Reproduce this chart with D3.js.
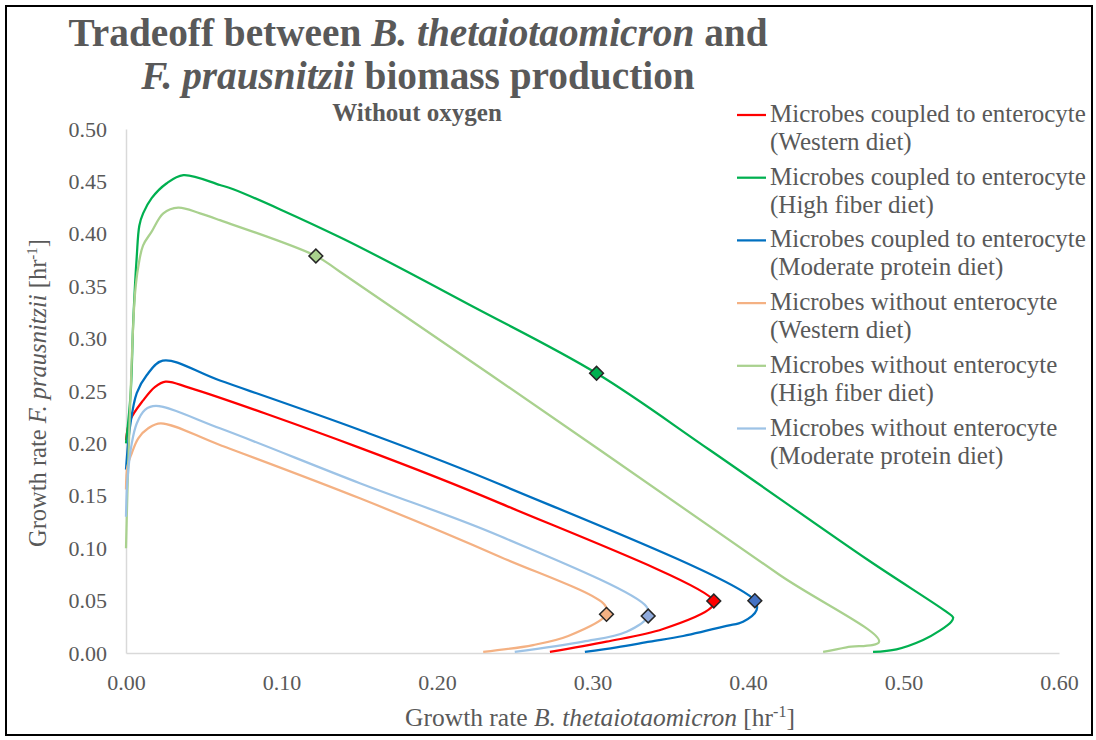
<!DOCTYPE html>
<html>
<head>
<meta charset="utf-8">
<script src="https://cdn.jsdelivr.net/npm/d3@7"></script>
<style>
  body { margin: 0; background: #fff; }
  svg text { font-family: "Liberation Serif", "Times New Roman", serif; }
</style>
</head>
<body>
<div id="chart"></div>
<script>
// growth rate pairs [B. thetaiotaomicron, F. prausnitzii]
var coupledWestern = [
  [0.0, 0.203], [0.0026, 0.222], [0.011, 0.241], [0.0187, 0.254], [0.0255, 0.259],
  [0.041, 0.253], [0.150, 0.196], [0.2404, 0.143], [0.378, 0.0496], [0.3765, 0.0436],
  [0.3454, 0.0229], [0.309, 0.0108], [0.2726, 0.001]
];
var coupledHighFiber = [
  [0.0, 0.20], [0.003, 0.248], [0.0047, 0.318], [0.0069, 0.378], [0.0086, 0.408],
  [0.011, 0.4195], [0.0165, 0.434], [0.026, 0.448], [0.0369, 0.456], [0.0604, 0.4466],
  [0.069, 0.4425], [0.1376, 0.3967], [0.2233, 0.3304], [0.3026, 0.2669], [0.3754, 0.1937],
  [0.4772, 0.0887], [0.5275, 0.0394], [0.5319, 0.034], [0.5308, 0.030], [0.5233, 0.0213],
  [0.5126, 0.0124], [0.4955, 0.0035], [0.4804, 0.001]
];
var coupledModerate = [
  [0.0, 0.175], [0.0026, 0.216], [0.0069, 0.248], [0.0133, 0.265], [0.0236, 0.279],
  [0.0604, 0.260], [0.150, 0.213], [0.2404, 0.161], [0.4044, 0.0499], [0.4055, 0.041],
  [0.3968, 0.0299], [0.3862, 0.0258], [0.3583, 0.0162], [0.3369, 0.0108], [0.3155, 0.0054],
  [0.2951, 0.001]
];
var withoutWestern = [
  [0.0, 0.156], [0.0009, 0.178], [0.0037, 0.1906], [0.0079, 0.2049], [0.0143, 0.2144],
  [0.0223, 0.2192], [0.0604, 0.1985], [0.1504, 0.1476], [0.2404, 0.0919], [0.3079, 0.0458],
  [0.309, 0.0369], [0.2844, 0.0162], [0.2618, 0.0076], [0.2297, 0.001]
];
var withoutHighFiber = [
  [0.0, 0.10], [0.0009, 0.152], [0.0037, 0.2796], [0.0058, 0.343], [0.0079, 0.3686],
  [0.011, 0.389], [0.0165, 0.402], [0.024, 0.4195], [0.0336, 0.425], [0.0476, 0.4195],
  [0.0604, 0.413], [0.1221, 0.3788], [0.1376, 0.3638], [0.3047, 0.1937], [0.4204, 0.0744],
  [0.4843, 0.0108], [0.4633, 0.0054], [0.4483, 0.001]
];
var withoutModerate = [
  [0.0, 0.130], [0.0009, 0.165], [0.0037, 0.20], [0.0069, 0.219], [0.0122, 0.232],
  [0.0193, 0.2357], [0.0604, 0.2144], [0.1504, 0.162], [0.2404, 0.1116], [0.3347, 0.0442],
  [0.3358, 0.0353], [0.3219, 0.0203], [0.294, 0.0108], [0.250, 0.001]
];

var seriesNames = [
  ["Microbes coupled to enterocyte", "(Western diet)"],
  ["Microbes coupled to enterocyte", "(High fiber diet)"],
  ["Microbes coupled to enterocyte", "(Moderate protein diet)"],
  ["Microbes without enterocyte", "(Western diet)"],
  ["Microbes without enterocyte", "(High fiber diet)"],
  ["Microbes without enterocyte", "(Moderate protein diet)"]
];
var seriesColors = ["#FF0000", "#00B050", "#0070C0", "#F4B183", "#A9D18E", "#9DC3E6"];

// highlighted diamond on each curve
var markerX = [0.378, 0.3026, 0.4044, 0.309, 0.1221, 0.3358];
var markerY = [0.0496, 0.2669, 0.0499, 0.0369, 0.3788, 0.0353];
var markerColors = ["#FF0000", "#00B050", "#4472C4", "#F4B183", "#A9D18E", "#8FAADC"];

var xTicks = [0, 0.1, 0.2, 0.3, 0.4, 0.5, 0.6];
var yTicks = [0, 0.05, 0.1, 0.15, 0.2, 0.25, 0.3, 0.35, 0.4, 0.45, 0.5];

var allSeries = [coupledWestern, coupledHighFiber, coupledModerate,
                 withoutWestern, withoutHighFiber, withoutModerate];

var textColor = "#595959";
var width = 1096, height = 740;

var svg = d3.select("#chart").append("svg")
    .attr("width", width)
    .attr("height", height);

svg.append("rect")
    .attr("x", 6).attr("y", 6)
    .attr("width", 1086).attr("height", 729)
    .attr("fill", "#fff")
    .attr("stroke", "#000")
    .attr("stroke-width", 2);

var x = d3.scaleLinear().domain([0, 0.6]).range([126, 1059]);
var y = d3.scaleLinear().domain([0, 0.5]).range([653, 129]);

// axes
var xAxis = svg.append("g")
    .attr("transform", "translate(0," + y(0) + ")")
    .call(d3.axisBottom(x).tickValues(xTicks).tickSize(0).tickPadding(21).tickFormat(d3.format(".2f")));
var yAxis = svg.append("g")
    .attr("transform", "translate(" + x(0) + ",0)")
    .call(d3.axisLeft(y).tickValues(yTicks).tickSize(0).tickPadding(19).tickFormat(d3.format(".2f")));

[xAxis, yAxis].forEach(function (g) {
    g.attr("font-family", null);
    g.select(".domain").attr("stroke", "#d9d9d9").attr("stroke-width", 1.5);
    g.selectAll("text")
        .attr("fill", textColor)
        .style("font-size", "22px")
        .style("font-family", "'Liberation Serif', serif");
});

// curves
var line = d3.line()
    .x(function (d) { return x(d[0]); })
    .y(function (d) { return y(d[1]); })
    .curve(d3.curveCatmullRom.alpha(0.5));

svg.append("g").selectAll("path")
    .data(allSeries)
    .enter().append("path")
    .attr("d", line)
    .attr("fill", "none")
    .attr("stroke", function (d, i) { return seriesColors[i]; })
    .attr("stroke-width", 2.25)
    .attr("stroke-linejoin", "round");

// diamonds
var diamond = d3.symbol().type(d3.symbolSquare).size(95);
svg.append("g").selectAll("path")
    .data(markerX)
    .enter().append("path")
    .attr("d", diamond)
    .attr("transform", function (d, i) {
        return "translate(" + x(d) + "," + y(markerY[i]) + ") rotate(45)";
    })
    .attr("fill", function (d, i) { return markerColors[i]; })
    .attr("stroke", "#262626")
    .attr("stroke-width", 1.5);

// title
var title = svg.append("text")
    .attr("x", 418).attr("y", 46)
    .attr("text-anchor", "middle")
    .attr("fill", textColor)
    .style("font-size", "39.3px")
    .style("font-weight", "bold");
title.append("tspan").text("Tradeoff between ");
title.append("tspan").style("font-style", "italic").text("B. thetaiotaomicron");
title.append("tspan").text(" and");

var title2 = svg.append("text")
    .attr("x", 418).attr("y", 89)
    .attr("text-anchor", "middle")
    .attr("fill", textColor)
    .style("font-size", "39.3px")
    .style("font-weight", "bold");
title2.append("tspan").style("font-style", "italic").text("F. prausnitzii");
title2.append("tspan").text(" biomass production");

svg.append("text")
    .attr("x", 417).attr("y", 121)
    .attr("text-anchor", "middle")
    .attr("fill", textColor)
    .style("font-size", "25px")
    .style("font-weight", "bold")
    .text("Without oxygen");

// axis titles
var xTitle = svg.append("text")
    .attr("x", 600).attr("y", 726)
    .attr("text-anchor", "middle")
    .attr("fill", textColor)
    .style("font-size", "25.5px");
xTitle.append("tspan").text("Growth rate ");
xTitle.append("tspan").style("font-style", "italic").text("B. thetaiotaomicron");
xTitle.append("tspan").text(" [hr");
xTitle.append("tspan").attr("dy", -9).style("font-size", "16px").text("-1");
xTitle.append("tspan").attr("dy", 9).text("]");

var yTitle = svg.append("text")
    .attr("transform", "translate(46,393) rotate(-90)")
    .attr("text-anchor", "middle")
    .attr("fill", textColor)
    .style("font-size", "24.5px");
yTitle.append("tspan").text("Growth rate ");
yTitle.append("tspan").style("font-style", "italic").text("F. prausnitzii");
yTitle.append("tspan").text(" [hr");
yTitle.append("tspan").attr("dy", -9).style("font-size", "15px").text("-1");
yTitle.append("tspan").attr("dy", 9).text("]");

// legend
var legend = svg.append("g").selectAll("g")
    .data(seriesNames)
    .enter().append("g")
    .attr("transform", function (d, i) { return "translate(737," + (122 + i * 62.7) + ")"; });

legend.append("line")
    .attr("x1", 0).attr("x2", 29)
    .attr("y1", -7).attr("y2", -7)
    .attr("stroke", function (d, i) { return seriesColors[i]; })
    .attr("stroke-width", 2.25);

legend.append("text")
    .attr("x", 33)
    .attr("fill", textColor)
    .style("font-size", "25px")
    .text(function (d) { return d[0]; });

legend.append("text")
    .attr("x", 33).attr("y", 28)
    .attr("fill", textColor)
    .style("font-size", "25px")
    .text(function (d) { return d[1]; });
</script>
</body>
</html>
